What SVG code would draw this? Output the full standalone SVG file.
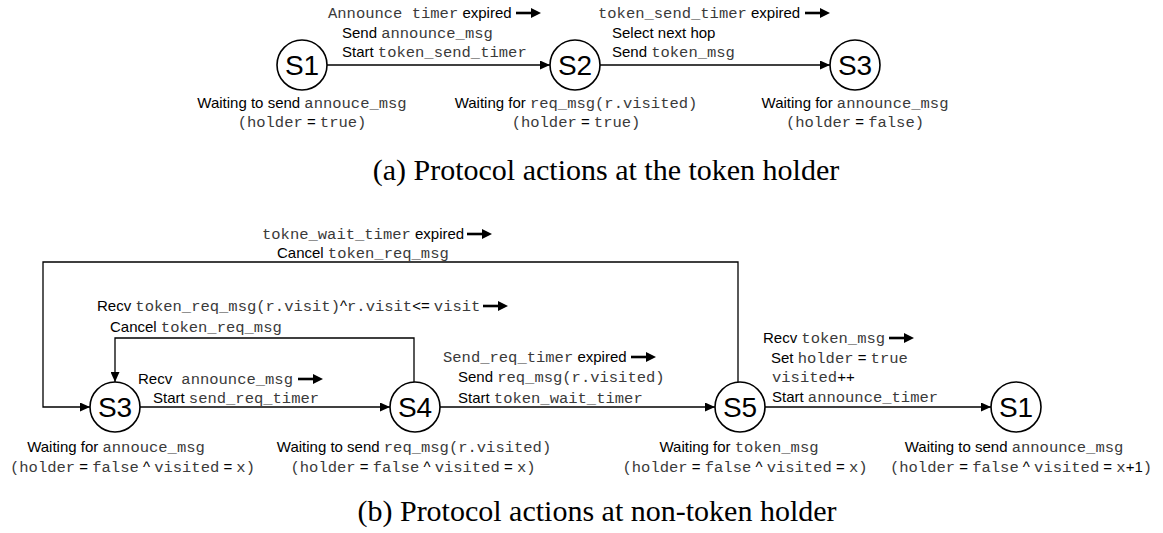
<svg xmlns="http://www.w3.org/2000/svg" width="1163" height="533" viewBox="0 0 1163 533">
<style>
.s{font-family:"Liberation Sans",Arial,sans-serif;font-size:15px;fill:#000}
.m{font-family:"Liberation Mono","Courier New",monospace;font-size:15.5px;fill:#3a3a3a}
.st{font-family:"Liberation Sans",Arial,sans-serif;font-size:28px;fill:#000;text-anchor:middle}
.cap{font-family:"Liberation Serif","Times New Roman",serif;font-size:30px;fill:#000;text-anchor:middle}
.node circle{fill:#fff;stroke:#000;stroke-width:1.6}
.edge{fill:none;stroke:#000;stroke-width:1.3;marker-end:url(#ah)}
.sa line{stroke:#000;stroke-width:2.6}
.sa path{fill:#000}
</style>
<defs>
<marker id="ah" markerUnits="userSpaceOnUse" markerWidth="11" markerHeight="9" refX="10" refY="4.5" orient="auto">
<path d="M0,0 L10,4.5 L0,9 z" fill="#000"/>
</marker>
</defs>
<rect width="1163" height="533" fill="#fff"/>

<g id="connectors">
<path class="edge" d="M327,65 H550"/>
<path class="edge" d="M600,65 H830"/>
<path class="edge" d="M738,382 V262 H43 V407 H90"/>
<path class="edge" d="M414,382 V338 H115 V382"/>
<path class="edge" d="M140,407 H390"/>
<path class="edge" d="M440,407 H715"/>
<path class="edge" d="M765,407 H991"/>
</g>

<g id="edge-labels">
<text class="s" x="328" y="18"><tspan class="m">Announce timer</tspan> expired</text>
<text class="s" x="342" y="38">Send <tspan class="m">announce_msg</tspan></text>
<text class="s" x="342" y="57">Start <tspan class="m">token_send_timer</tspan></text>

<text class="s" x="598" y="18"><tspan class="m">token_send_timer</tspan> expired</text>
<text class="s" x="612" y="38">Select next hop</text>
<text class="s" x="612" y="57">Send <tspan class="m">token_msg</tspan></text>

<text class="s" x="262" y="239"><tspan class="m">tokne_wait_timer</tspan> expired</text>
<text class="s" x="277" y="258">Cancel <tspan class="m">token_req_msg</tspan></text>

<text class="s" x="97" y="311">Recv <tspan class="m">token_req_msg(r.visit)</tspan>^<tspan class="m">r.visit</tspan>&lt;= <tspan class="m">visit</tspan></text>
<text class="s" x="110" y="332">Cancel <tspan class="m">token_req_msg</tspan></text>

<text class="s" x="138" y="384">Recv <tspan class="m" dx="5">announce_msg</tspan></text>
<text class="s" x="153" y="403">Start <tspan class="m">send_req_timer</tspan></text>

<text class="s" x="443" y="362"><tspan class="m">Send_req_timer</tspan> expired</text>
<text class="s" x="458" y="382">Send <tspan class="m">req_msg(r.visited)</tspan></text>
<text class="s" x="458" y="403">Start <tspan class="m">token_wait_timer</tspan></text>

<text class="s" x="763" y="343">Recv <tspan class="m">token_msg</tspan></text>
<text class="s" x="771" y="363">Set <tspan class="m">holder</tspan> = <tspan class="m">true</tspan></text>
<text class="s" x="772" y="382"><tspan class="m">visited</tspan>++</text>
<text class="s" x="772" y="402">Start <tspan class="m">announce_timer</tspan></text>

<g class="sa">
<line x1="516" y1="13" x2="533" y2="13"/><path d="M531,8 L541,13 L531,18 z"/>
<line x1="805" y1="13" x2="822" y2="13"/><path d="M820,8 L830,13 L820,18 z"/>
<line x1="467" y1="234" x2="484" y2="234"/><path d="M482,229 L492,234 L482,239 z"/>
<line x1="483" y1="306" x2="500" y2="306"/><path d="M498,301 L508,306 L498,311 z"/>
<line x1="298" y1="379" x2="315" y2="379"/><path d="M313,374 L323,379 L313,384 z"/>
<line x1="631" y1="357" x2="648" y2="357"/><path d="M646,352 L656,357 L646,362 z"/>
<line x1="889" y1="338" x2="906" y2="338"/><path d="M904,333 L914,338 L904,343 z"/>
</g>
</g>

<g id="a-S1" class="node">
<circle cx="302" cy="65" r="25"/>
<text class="st" x="302" y="75">S1</text>
<text class="s" x="302" y="108" text-anchor="middle">Waiting to send <tspan class="m">annouce_msg</tspan></text>
<text class="s" x="302" y="127" text-anchor="middle"><tspan class="m">(holder</tspan> = <tspan class="m">true)</tspan></text>
</g>
<g id="a-S2" class="node">
<circle cx="575" cy="65" r="25"/>
<text class="st" x="575" y="75">S2</text>
<text class="s" x="576" y="108" text-anchor="middle">Waiting for <tspan class="m">req_msg(r.visited)</tspan></text>
<text class="s" x="576" y="127" text-anchor="middle"><tspan class="m">(holder</tspan> = <tspan class="m">true)</tspan></text>
</g>
<g id="a-S3" class="node">
<circle cx="855" cy="65" r="25"/>
<text class="st" x="855" y="75">S3</text>
<text class="s" x="855" y="108" text-anchor="middle">Waiting for <tspan class="m">announce_msg</tspan></text>
<text class="s" x="855" y="127" text-anchor="middle"><tspan class="m">(holder</tspan> = <tspan class="m">false)</tspan></text>
</g>

<g id="b-S3" class="node">
<circle cx="115" cy="407" r="25"/>
<text class="st" x="115" y="417">S3</text>
<text class="s" x="116" y="452" text-anchor="middle">Waiting for <tspan class="m">annouce_msg</tspan></text>
<text class="s" x="10" y="472"><tspan class="m">(holder</tspan> = <tspan class="m">false</tspan> ^ <tspan class="m">visited</tspan> = <tspan class="m">x)</tspan></text>
</g>
<g id="b-S4" class="node">
<circle cx="415" cy="407" r="25"/>
<text class="st" x="415" y="417">S4</text>
<text class="s" x="414" y="452" text-anchor="middle">Waiting to send <tspan class="m">req_msg(r.visited)</tspan></text>
<text class="s" x="413" y="472" text-anchor="middle"><tspan class="m">(holder</tspan> = <tspan class="m">false</tspan> ^ <tspan class="m">visited</tspan> = <tspan class="m">x)</tspan></text>
</g>
<g id="b-S5" class="node">
<circle cx="740" cy="407" r="25"/>
<text class="st" x="740" y="417">S5</text>
<text class="s" x="739" y="452" text-anchor="middle">Waiting for <tspan class="m">token_msg</tspan></text>
<text class="s" x="745" y="472" text-anchor="middle"><tspan class="m">(holder</tspan> = <tspan class="m">false</tspan> ^ <tspan class="m">visited</tspan> = <tspan class="m">x)</tspan></text>
</g>
<g id="b-S1" class="node">
<circle cx="1016" cy="407" r="25"/>
<text class="st" x="1016" y="417">S1</text>
<text class="s" x="1014" y="452" text-anchor="middle">Waiting to send <tspan class="m">announce_msg</tspan></text>
<text class="s" x="1021" y="472" text-anchor="middle"><tspan class="m">(holder</tspan> = <tspan class="m">false</tspan> ^ <tspan class="m">visited</tspan> = <tspan class="m">x</tspan>+1<tspan class="m">)</tspan></text>
</g>

<g id="captions">
<text class="cap" x="606" y="180">(a) Protocol actions at the token holder</text>
<text class="cap" x="597" y="521">(b) Protocol actions at non-token holder</text>
</g>
</svg>
